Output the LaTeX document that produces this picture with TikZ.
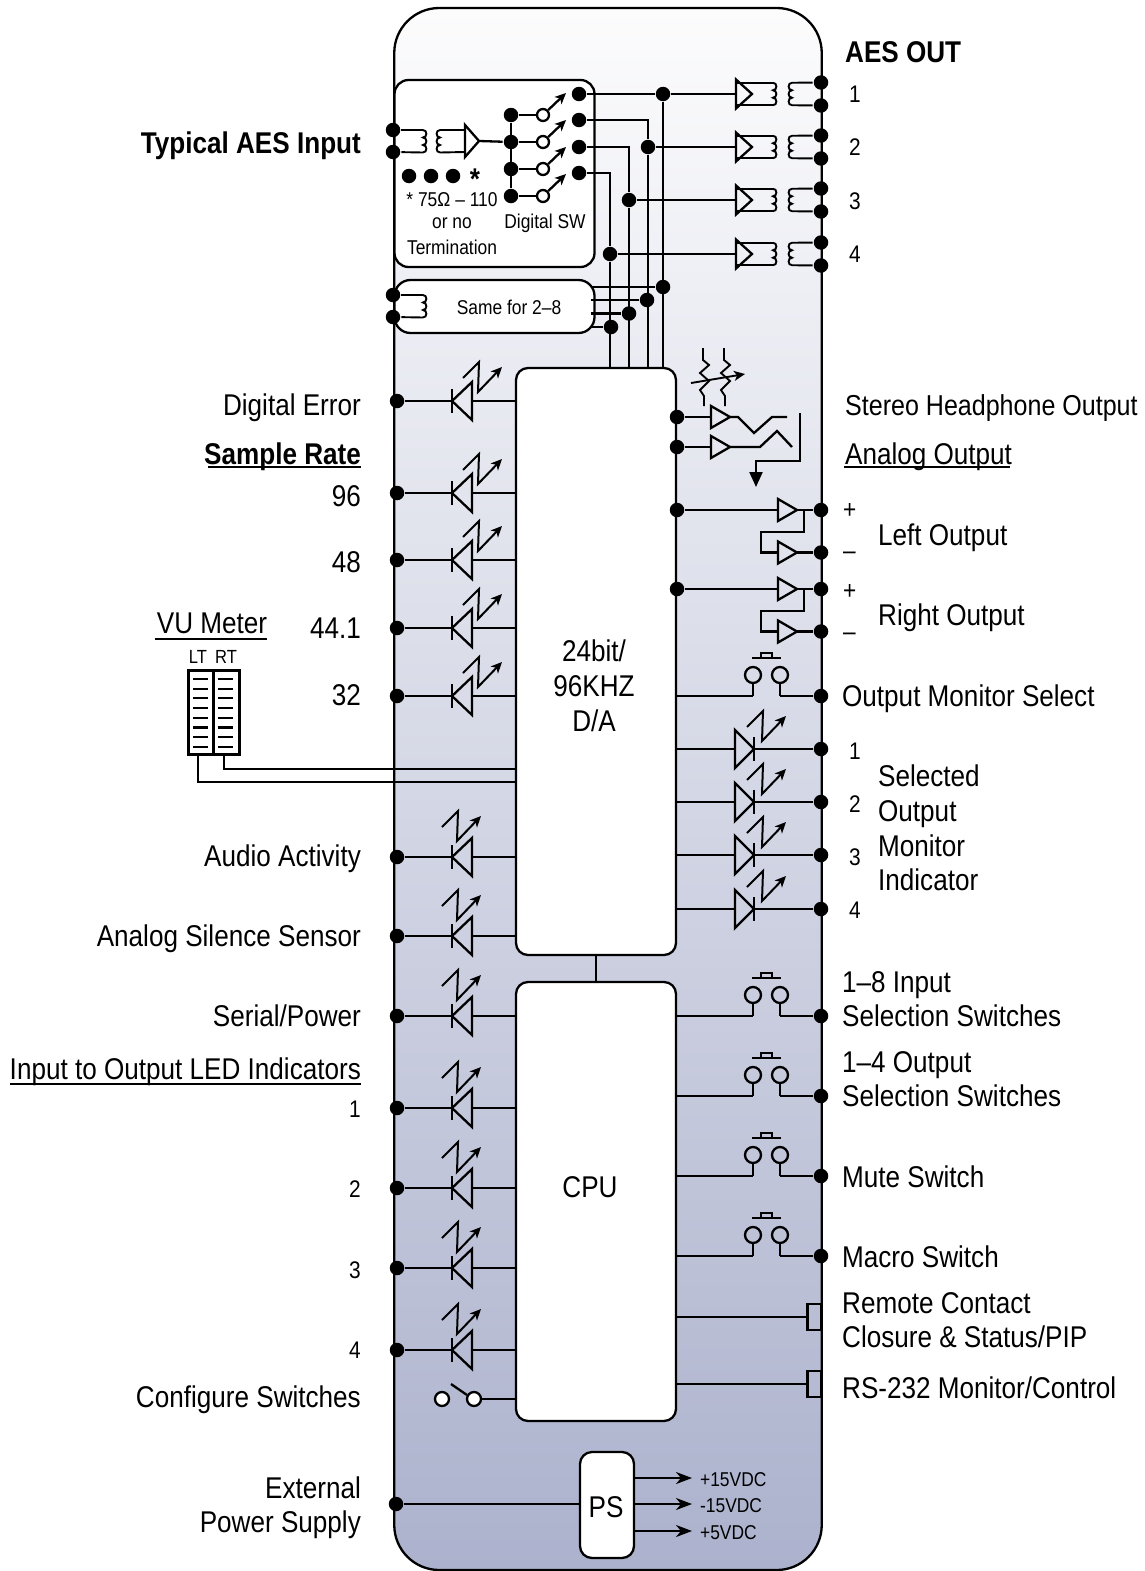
\documentclass[tikz,border=0pt]{standalone}
\usepackage{fontspec}
\setmainfont[FakeStretch=0.87]{Liberation Sans}
\usetikzlibrary{arrows.meta}
\definecolor{chassistop}{RGB}{252,252,253}
\definecolor{chassisbot}{RGB}{172,178,205}
\tikzset{
  ledleft/.pic={\draw (0,-12) -- (0,12); \draw (0,0) -- (20,-19) -- (20,19) -- cycle;
    \coordinate (-k) at (0,0); \coordinate (-a) at (20,0);},
  ledright/.pic={\draw (0,-12) -- (0,12); \draw (0,0) -- (-19,-19) -- (-19,19) -- cycle;
    \coordinate (-k) at (0,0); \coordinate (-a) at (-19,0);},
  flash/.pic={\draw[->,line width=2pt] (0,0) -- (16,-16) -- (15,14) -- (39,-11);},
  amp/.pic={\draw (0,-11) -- (19,0) -- (0,11) -- cycle;
    \coordinate (-in) at (0,0); \coordinate (-out) at (19,0);},
  coil/.pic={\draw[line width=1.9pt] (0,0) .. controls (4.5,0) and (4.5,7.5) .. (0,7.5)
      .. controls (4.5,7.5) and (4.5,15) .. (0,15) .. controls (4.5,15) and (4.5,22.5) .. (0,22.5);
    \coordinate (-t) at (0,0); \coordinate (-b) at (0,22.5);},
  pushsw/.pic={\draw (0,-21) circle (8); \draw (27,-21) circle (8);
    \draw (0,-13) -- (0,0); \draw (27,-13) -- (27,0);
    \draw (-1,-38) -- (28,-38); \draw[line width=1.8pt] (8,-38) -- (8,-43) -- (19,-43) -- (19,-38);
    \coordinate (-a) at (0,0); \coordinate (-b) at (27,0);},
  potres/.pic={\draw[line width=1.9pt] (0,0) -- (0,12) -- (6,17) -- (-3,25) -- (6,33) -- (-3,42) -- (1,48) -- (1,58);},
}
\begin{document}
\begin{tikzpicture}[x=1pt,y=-1pt,line width=2.3pt,>={Stealth[length=11pt,width=10pt,inset=3pt]},
  lbl/.style={inner sep=0pt,font=\fontsize{30}{35}\selectfont},
  lblb/.style={lbl,font=\fontsize{30}{35}\selectfont\bfseries},
  sm/.style={inner sep=0pt,font=\fontsize{24}{28}\selectfont},
  tiny/.style={inner sep=0pt,font=\fontsize{20}{24}\selectfont}]
\tikzstyle{dot}=[circle,fill=black,inner sep=0pt,minimum size=14.5pt]
\tikzstyle{opendot}=[circle,draw,fill=white,inner sep=0pt,minimum size=14pt]
\tikzstyle{block}=[draw,fill=white,inner sep=0pt,rounded corners=12pt]
\useasboundingbox (0,0) rectangle (1145,1571);
\node[draw,inner sep=0pt,rounded corners=45pt,top color=chassistop,bottom color=chassisbot,minimum width=427.5pt,minimum height=1562pt] (chassis) at (608,789) {};
% blocks
\node[block,rounded corners=14pt,minimum width=200pt,minimum height=187pt] (dig) at (494.5,173.5) {};
\node[block,rounded corners=16pt,minimum width=200pt,minimum height=53pt] (same) at (494.5,306.5) {};
\node[block,minimum width=160pt,minimum height=587pt] (dac) at (596,661.5) {};
\node[block,minimum width=160pt,minimum height=439pt] (cpu) at (596,1201.5) {};
\node[block,minimum width=54pt,minimum height=106pt] (ps) at (607,1505) {};
\node[lbl,align=center] (dactxt) at (594,686) {24bit/\\96KHZ\\D/A};
\node[lbl] (cputxt) at (590,1187) {CPU};
\node[lbl] (pstxt) at (606,1507) {PS};
\node[tiny] (sametxt) at (509,307) {Same for 2–8};
\draw (dac.south) -- (cpu.north);
% input transformer
\node[dot] (int) at (393,130) {};
\node[dot] (inb) at (393,152) {};
\pic (cin) at (423,130) {coil};
\pic[xscale=-1] (cin2) at (440,130) {coil};
\draw[line width=1.9pt] (int) -- (cin-t);
\draw[line width=1.9pt] (inb) -- (cin-b);
\draw (465,125) -- (479,141) -- (465,157) -- cycle;
\coordinate (ampin) at (479,141);
\draw[line width=1.9pt] (cin2-t) -- (465,130);
\draw[line width=1.9pt] (cin2-b) -- (465,152);
\node[dot] (tm1) at (409,176) {};
\node[dot] (tm2) at (431,176) {};
\node[dot] (tm3) at (453,176) {};
\node[lblb,anchor=base,text height=8pt,text depth=0pt] (star) at (475,189) {*};
\node[tiny] (term1) at (452,200) {* 75Ω – 110};
\node[tiny] (term2) at (452,223) {or no};
\node[tiny] (term3) at (452,247) {Termination};
\node[tiny] (dsw) at (545,223) {Digital SW};
% digital switch
\foreach \n/\y/\o in {1/115/94,2/142/120,3/169/147,4/196/173}{
  \node[dot] (i\n) at (511,\y) {};
  \node[opendot,minimum size=12pt] (c\n) at (543,\y) {};
  \node[dot] (o\n) at (579,\o) {};
  \coordinate (t\n) at (566,\y-22);
  \draw (i\n) -- (c\n);
  \draw[->] (c\n) -- (t\n);
}
\draw (i1) -- (i4);
\draw (ampin) -- (i2);
% AES out
\foreach \n/\y in {1/94,2/147,3/200,4/254}{
  \draw (736,\y-14.5) -- (752,\y) -- (736,\y+14.5) -- cycle;
  \coordinate (aes\n) at (736,\y);
  \pic (cl\n) at (773,\y-11.25) {coil};
  \pic[xscale=-1] (cr\n) at (792,\y-11.25) {coil};
  \node[dot] (ot\n) at (821,\y-11.5) {};
  \node[dot] (ob\n) at (821,\y+11.5) {};
  \draw[line width=1.9pt] (736,\y-11.25) -- (cl\n-t);
  \draw[line width=1.9pt] (736,\y+11.25) -- (cl\n-b);
  \draw[line width=1.9pt] (cr\n-t) -- (ot\n);
  \draw[line width=1.9pt] (cr\n-b) -- (ob\n);
}
\node[dot] (j1) at (663,94) {};
\node[dot] (j2) at (648,147) {};
\node[dot] (j3) at (629,200) {};
\node[dot] (j4) at (610,254) {};
\node[dot] (s1) at (663,287) {};
\node[dot] (s2) at (647,300) {};
\node[dot] (s3) at (629,313.5) {};
\node[dot] (s4) at (611,327) {};
\draw (o1) -- (j1);
\draw (o2) -| (j2);
\draw (o3) -| (j3);
\draw (o4) -| (j4);
\foreach \n in {1,2,3,4}{
  \draw (j\n) -- (aes\n);
  \draw (j\n) -- (j\n |- dac.north);
  \draw ([xshift=-5pt]s\n -| same.east) -- (s\n);
}
% same for 2-8
\node[dot] (sat) at (393,295) {};
\node[dot] (sab) at (393,317) {};
\pic (csa) at (423,295) {coil};
\draw[line width=1.9pt] (sat) -- (csa-t);
\draw[line width=1.9pt] (sab) -- (csa-b);
% left leds
\foreach \n/\y/\b/\fx/\fy in {err/401/dac/463/23,r96/493/dac/463/23,r48/560/dac/463/23,r44/628/dac/463/23,r32/696/dac/463/23,
    aud/857/dac/442/30,sil/936/dac/442/30,ser/1016/cpu/442/30,il1/1108/cpu/442/30,il2/1188/cpu/442/30,il3/1268/cpu/442/30,il4/1350/cpu/442/30}{
  \node[dot] (d\n) at (397,\y) {};
  \pic (\n) at (452,\y) {ledleft};
  \pic at (\fx,\y-\fy) {flash};
  \draw (d\n) -- (\n-k);
  \draw (\n-a) -- (\n-a -| \b.west);
}
\node[opendot] (cfga) at (442,1399) {};
\node[opendot] (cfgb) at (474,1399) {};
\coordinate (cfgl) at (451,1384);
\coordinate (cfgr) at (467,1395);
\draw (cfgl) -- (cfgr);
\draw (cfgb) -- (cfgb -| cpu.west);
% VU meter
\node[draw,fill=white,line width=3pt,inner sep=0pt,minimum width=51pt,minimum height=84pt] (vu) at (213.5,712) {};
\draw (vu.north) -- (vu.south);
\foreach \i in {0,...,7}{
  \draw (193,679+\i*9.67) -- (208,679+\i*9.67);
  \draw (218,679+\i*9.67) -- (233,679+\i*9.67);
}
\node[inner sep=0pt,font=\fontsize{19}{22}\selectfont] (lt) at (198,657) {LT};
\node[inner sep=0pt,font=\fontsize{19}{22}\selectfont] (rt) at (226,657) {RT};
\coordinate (vul) at (198,754);
\coordinate (vur) at (224,754);
\coordinate (dacl) at (516,782);
\coordinate (dacr) at (516,769);
\draw (vul) |- (dacl);
\draw (vur) |- (dacr);
% headphone
\node[dot] (hp1) at (677,417) {};
\node[dot] (hp2) at (677,447) {};
\pic (ah1) at (711,417) {amp};
\pic (ah2) at (711,447) {amp};
\draw (hp1) -- (ah1-in);
\draw (hp2) -- (ah2-in);
\draw (ah1-out) -- (738,417) -- (754,433) -- (772,417) -- (787,417);
\draw (ah2-out) -- (760,447) -- (777,431) -- (792,447);
\draw[-{Triangle[length=15pt,width=13pt]}] (800,413) -- (800,461) -- (756,461) -- (756,487);
\pic at (703,348) {potres};
\pic at (724,348) {potres};
\coordinate (pota) at (691,383);
\coordinate (potb) at (745,374);
\draw[->,line width=1.9pt] (pota) -- (potb);
% analog outputs
\foreach \n/\y in {l/510,r/589}{
  \node[dot] (d\n a) at (677,\y) {};
  \node[dot] (o\n p) at (821,\y) {};
  \node[dot] (o\n m) at (821,\y+42.5) {};
  \pic (a\n p) at (778,\y) {amp};
  \pic (a\n m) at (778,\y+42.5) {amp};
  \draw (d\n a) -- (a\n p-in);
  \draw (a\n p-out) -- (o\n p);
  \draw (a\n m-out) -- (o\n m);
  \draw (804,\y) -- (804,\y+22) -- (761,\y+22) -- (761,\y+42.5) -- (a\n m-in);
}
% push switches
\foreach \n/\y/\b in {mon/696/dac,sw1/1016/cpu,sw2/1096/cpu,sw3/1176/cpu,sw4/1256/cpu}{
  \pic (\n) at (753,\y) {pushsw};
  \node[dot] (d\n) at (821,\y) {};
  \draw (\n-a -| \b.east) -- (\n-a);
  \draw (\n-b) -- (d\n);
}
% right leds
\foreach \n/\y in {1/749,2/802,3/855,4/909}{
  \pic (rl\n) at (754,\y) {ledright};
  \pic at (747,\y-22) {flash};
  \node[dot] (dr\n) at (821,\y) {};
  \draw (rl\n-a -| dac.east) -- (rl\n-a);
  \draw (rl\n-k) -- (dr\n);
}
% connectors
\node[draw,inner sep=0pt,minimum width=14pt,minimum height=26pt] (rem) at (814.5,1317) {};
\node[draw,inner sep=0pt,minimum width=14pt,minimum height=26pt] (rs) at (814.5,1384) {};
\draw (rem.west -| cpu.east) -- (rem.west);
\draw (rs.west -| cpu.east) -- (rs.west);
% power
\node[dot] (dps) at (396,1504) {};
\draw (dps) -- (ps.west |- dps);
\coordinate (v1) at (692,1478);
\coordinate (v2) at (692,1504);
\coordinate (v3) at (692,1531);
\foreach \n in {1,2,3}{\draw[-{Stealth[length=16pt,width=12pt,inset=5pt]}] (ps.east |- v\n) -- (v\n);}
\node[tiny,anchor=west] (v1t) at (699,1480) {+15VDC};
\node[tiny,anchor=west] (v2t) at (699,1506) {-15VDC};
\node[tiny,anchor=west] (v3t) at (699,1533) {+5VDC};
% left labels
\node[lblb,anchor=base east] (ltai) at (362,153) {Typical AES Input};
\node[lbl,anchor=base east] (lerr) at (362,415) {Digital Error};
\node[lblb,anchor=base east] (lsr) at (362,464) {Sample Rate};
\draw (208,467) -- (361,467);
\node[lbl,anchor=base east] (l96) at (362,506) {96};
\node[lbl,anchor=base east] (l48) at (362,572) {48};
\node[lbl,anchor=base east] (l44) at (362,638) {44.1};
\node[lbl,anchor=base east] (l32) at (362,705) {32};
\node[lbl,anchor=base] (lvu) at (212,633) {VU Meter};
\draw (155,639) -- (267,639);
\node[lbl,anchor=base east] (laud) at (362,866) {Audio Activity};
\node[lbl,anchor=base east] (lsil) at (362,946) {Analog Silence Sensor};
\node[lbl,anchor=base east] (lser) at (362,1026) {Serial/Power};
\node[lbl,anchor=base east] (lio) at (362,1079) {Input to Output LED Indicators};
\draw (10,1084) -- (361,1084);
\node[sm,anchor=base east] (li1) at (362,1117) {1};
\node[sm,anchor=base east] (li2) at (362,1197) {2};
\node[sm,anchor=base east] (li3) at (362,1278) {3};
\node[sm,anchor=base east] (li4) at (362,1358) {4};
\node[lbl,anchor=base east] (lcfg) at (362,1407) {Configure Switches};
\node[lbl,anchor=base east] (lext) at (362,1498) {External};
\node[lbl,anchor=base east] (lpow) at (362,1532) {Power Supply};
% right labels
\node[lblb,anchor=base west] (raes) at (844,63) {AES OUT};
\node[sm,anchor=base west] (ra1) at (848,102) {1};
\node[sm,anchor=base west] (ra2) at (848,155) {2};
\node[sm,anchor=base west] (ra3) at (848,209) {3};
\node[sm,anchor=base west] (ra4) at (848,262) {4};
\node[lbl,font=\fontsize{28.8}{35}\selectfont,anchor=base west] (rhp) at (844,415) {Stereo Headphone Output};
\node[lbl,anchor=base west] (rao) at (844,464) {Analog Output};
\draw (844,467) -- (1010,467);
\node[sm,font=\fontsize{26}{28}\selectfont,anchor=west] (rp1) at (842,511) {+};
\node[sm,font=\fontsize{26}{28}\selectfont,anchor=west] (rm1) at (842,556) {–};
\node[sm,font=\fontsize{26}{28}\selectfont,anchor=west] (rp2) at (842,592) {+};
\node[sm,font=\fontsize{26}{28}\selectfont,anchor=west] (rm2) at (842,637) {–};
\node[lbl,anchor=base west] (rlo) at (877,545) {Left Output};
\node[lbl,anchor=base west] (rro) at (877,625) {Right Output};
\node[lbl,anchor=base west] (rms) at (841,706) {Output Monitor Select};
\node[sm,anchor=base west] (rn1) at (848,759) {1};
\node[sm,anchor=base west] (rn2) at (848,812) {2};
\node[sm,anchor=base west] (rn3) at (848,865) {3};
\node[sm,anchor=base west] (rn4) at (848,918) {4};
\node[lbl,anchor=base west] (rs1) at (877,786) {Selected};
\node[lbl,anchor=base west] (rs2) at (877,821) {Output};
\node[lbl,anchor=base west] (rs3) at (877,856) {Monitor};
\node[lbl,anchor=base west] (rs4) at (877,890) {Indicator};
\node[lbl,anchor=base west] (ri8) at (841,992) {1–8 Input};
\node[lbl,anchor=base west] (ri8s) at (841,1026) {Selection Switches};
\node[lbl,anchor=base west] (ro4) at (841,1072) {1–4 Output};
\node[lbl,anchor=base west] (ro4s) at (841,1106) {Selection Switches};
\node[lbl,anchor=base west] (rmu) at (841,1187) {Mute Switch};
\node[lbl,anchor=base west] (rma) at (841,1267) {Macro Switch};
\node[lbl,anchor=base west] (rrc) at (841,1313) {Remote Contact};
\node[lbl,anchor=base west] (rcl) at (841,1347) {Closure \& Status/PIP};
\node[lbl,anchor=base west] (rrs) at (841,1398) {RS-232 Monitor/Control};
\end{tikzpicture}
\end{document}
